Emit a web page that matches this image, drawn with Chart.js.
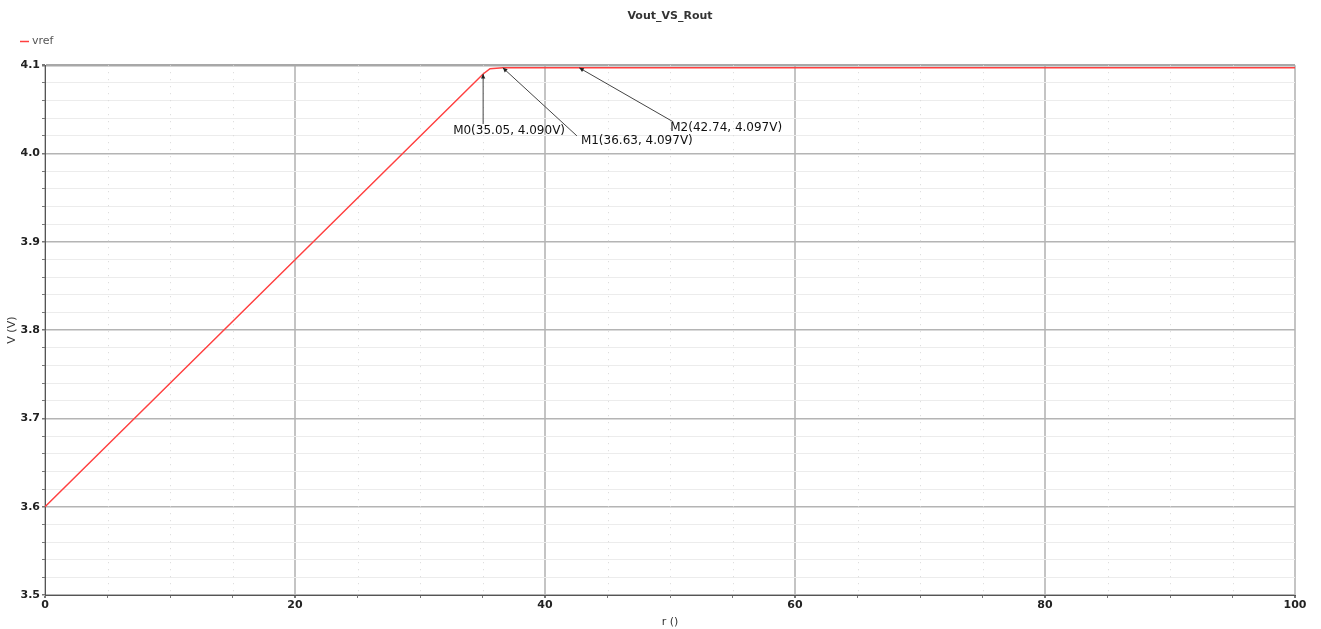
<!DOCTYPE html>
<html>
<head>
<meta charset="utf-8">
<script src="https://cdn.jsdelivr.net/npm/chart.js@4.4.1/dist/chart.umd.min.js"></script>
<style>
  html, body { margin: 0; padding: 0; background: #ffffff; }
  #wrap { width: 1321px; height: 629px; position: relative; }
</style>
</head>
<body>
<div id="wrap"><canvas id="c" width="1321" height="629"></canvas></div>
<script>
// ---- data ----
const chartTitle = 'Vout_VS_Rout';
const seriesName = 'vref';
const rValues = [0, 35.05, 35.6, 36.63, 42.74, 100];
const vValues = [3.6, 4.090, 4.096, 4.097, 4.097, 4.097];
const xTickLabels = [0, 20, 40, 60, 80, 100];
const yTickLabels = [3.5, 3.6, 3.7, 3.8, 3.9, 4.0, 4.1];
const markerNames = ['M0', 'M1', 'M2'];
const markerR = [35.05, 36.63, 42.74];
const markerV = [4.090, 4.097, 4.097];

// label offsets (styling only)
const markerStyle = [
  { lineDx: 0,  lineDy: 50, textDx: -30, textDy: 57 },
  { lineDx: 74, lineDy: 68, textDx: 78,  textDy: 73 },
  { lineDx: 94, lineDy: 54, textDx: 91,  textDy: 60 }
];

const points = rValues.map((r, i) => ({ x: r, y: vValues[i] }));

const inList = (v, list) => list.some(t => Math.abs(t - v) < 1e-6);

const minorXGrid = {
  id: 'minorXGrid',
  beforeDatasetsDraw(chart) {
    const { ctx, chartArea: a, scales: { x } } = chart;
    ctx.save();
    ctx.strokeStyle = '#d8d8d8';
    ctx.lineWidth = 1;
    ctx.setLineDash([1, 6]);
    for (let v = x.min; v <= x.max; v += 5) {
      if (inList(v, xTickLabels)) continue;
      const px = Math.round(x.getPixelForValue(v)) + 0.5;
      ctx.beginPath();
      ctx.moveTo(px, a.top);
      ctx.lineTo(px, a.bottom);
      ctx.stroke();
    }
    ctx.restore();
  }
};

const legendDraw = {
  id: 'legendDraw',
  afterDraw(chart) {
    const { ctx } = chart;
    const ds = chart.data.datasets[0];
    ctx.save();
    ctx.strokeStyle = ds.borderColor;
    ctx.lineWidth = 1.5;
    ctx.beginPath();
    ctx.moveTo(20, 41.5);
    ctx.lineTo(29, 41.5);
    ctx.stroke();
    ctx.fillStyle = '#555';
    ctx.font = '11px "DejaVu Sans"';
    ctx.textBaseline = 'middle';
    ctx.fillText(ds.label, 32, 41);
    ctx.restore();
  }
};

const markers = {
  id: 'markers',
  afterDatasetsDraw(chart) {
    const { ctx, scales: { x, y } } = chart;
    ctx.save();
    markerNames.forEach((name, i) => {
      const px = x.getPixelForValue(markerR[i]);
      const py = y.getPixelForValue(markerV[i]);
      const s = markerStyle[i];
      const ex = px + s.lineDx, ey = py + s.lineDy;
      ctx.strokeStyle = '#444';
      ctx.lineWidth = 1;
      ctx.beginPath();
      ctx.moveTo(px, py);
      ctx.lineTo(ex, ey);
      ctx.stroke();
      const ang = Math.atan2(ey - py, ex - px);
      ctx.fillStyle = '#222';
      ctx.beginPath();
      ctx.moveTo(px, py);
      ctx.lineTo(px + 5 * Math.cos(ang + 0.45), py + 5 * Math.sin(ang + 0.45));
      ctx.lineTo(px + 5 * Math.cos(ang - 0.45), py + 5 * Math.sin(ang - 0.45));
      ctx.closePath();
      ctx.fill();
      const txt = name + '(' + markerR[i].toFixed(2) + ', ' + markerV[i].toFixed(3) + 'V)';
      ctx.fillStyle = '#111';
      ctx.font = '12px "DejaVu Sans"';
      ctx.textBaseline = 'middle';
      ctx.textAlign = 'left';
      ctx.fillText(txt, px + s.textDx, py + s.textDy);
    });
    ctx.restore();
  }
};

new Chart(document.getElementById('c'), {
  type: 'line',
  data: {
    datasets: [{
      label: seriesName,
      data: points,
      borderColor: '#ff4040',
      borderWidth: 1.5,
      pointRadius: 0,
      tension: 0,
      fill: false
    }]
  },
  options: {
    responsive: false,
    animation: false,
    layout: { padding: { left: 0, right: 26, top: 0, bottom: 0 } },
    plugins: {
      legend: { display: false },
      tooltip: { enabled: false },
      title: {
        display: true,
        text: chartTitle,
        fullSize: false,
        color: '#333',
        font: { family: '"DejaVu Sans"', size: 11, weight: 'bold' },
        padding: { top: 10, bottom: 42 }
      }
    },
    scales: {
      x: {
        type: 'linear',
        min: 0, max: 100,
        afterFit(s) { s.height = 34; },
        ticks: {
          stepSize: 5,
          autoSkip: false,
          maxRotation: 0,
          padding: 1,
          color: '#222',
          font: { family: '"DejaVu Sans"', size: 11, weight: 'bold' },
          callback: v => inList(v, xTickLabels) ? String(v) : ''
        },
        grid: {
          drawOnChartArea: true,
          tickLength: 3,
          color: c => inList(c.tick.value, xTickLabels) ? '#c4c4c4' : 'rgba(0,0,0,0)',
          tickColor: '#777',
          lineWidth: c => inList(c.tick.value, xTickLabels) ? 2 : 1
        },
        border: { display: true, color: '#555', width: 1 },
        title: {
          display: true,
          text: 'r ()',
          color: '#333',
          font: { family: '"DejaVu Sans"', size: 11 },
          padding: { top: 0, bottom: 0 }
        }
      },
      y: {
        type: 'linear',
        min: 3.5, max: 4.1,
        afterFit(s) { s.width = 45; },
        ticks: {
          stepSize: 0.02,
          autoSkip: false,
          padding: 2,
          color: '#222',
          font: { family: '"DejaVu Sans"', size: 11, weight: 'bold' },
          callback: v => inList(v, yTickLabels) ? Number(v).toFixed(1) : ''
        },
        grid: {
          tickLength: 3,
          color: c => {
            const v = c.tick.value;
            if (Math.abs(v - 4.1) < 1e-6) return '#a8a8a8';
            return inList(v, yTickLabels) ? '#b4b4b4' : '#ececec';
          },
          lineWidth: c => {
            const v = c.tick.value;
            if (Math.abs(v - 4.1) < 1e-6) return 2.5;
            return inList(v, yTickLabels) ? 1.5 : 1;
          },
          tickColor: '#777'
        },
        border: { display: true, color: '#555', width: 1 },
        title: {
          display: true,
          text: 'V (V)',
          color: '#333',
          font: { family: '"DejaVu Sans"', size: 11 },
          padding: { top: 6, bottom: 0 }
        }
      }
    }
  },
  plugins: [minorXGrid, markers, legendDraw]
});
</script>
</body>
</html>
